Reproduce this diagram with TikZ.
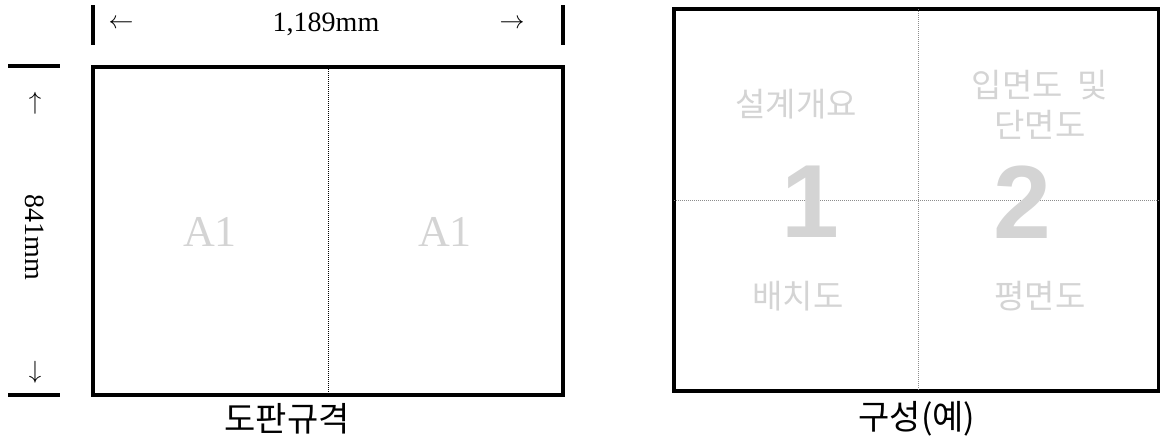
\documentclass[tikz,border=0pt]{standalone}
\usepackage{fontspec}
\setmainfont{Liberation Serif}
\newfontfamily\krfont{Noto Sans CJK KR}
\newfontfamily\numfont{Liberation Sans}
\definecolor{paleGray}{rgb}{0.83,0.83,0.83}
\definecolor{lineGray}{rgb}{0.55,0.55,0.55}

\begin{document}
\begin{tikzpicture}[x=1pt, y=-1pt,
  frame/.style={line width=3.3pt},
  divider/.style={line width=0.9pt, dash pattern=on 1pt off 1pt},
  dimtext/.style={font=\fontsize{28}{32}\selectfont},
  faint/.style={text=paleGray, font=\krfont\fontsize{33}{40}\selectfont, align=center},
  bignum/.style={text=paleGray, font=\numfont\bfseries\fontsize{104}{110}\selectfont},
  caption/.style={font=\krfont\fontsize{34}{38}\selectfont}]
%		\draw[help lines] (0,0) grid (1160,439);
\useasboundingbox (0,0) rectangle (1160,439);

% sheet size
\draw[frame] (93,67) rectangle (563,395);
\draw[divider] (328,67) -- (328,395);
\draw[frame] (93,5) -- (93,45);
\draw[frame] (563,5) -- (563,45);
\draw[frame] (8,66) -- (60,66);
\draw[frame] (8,395) -- (60,395);
\node[dimtext] (wleft) at (121,24) {$\leftarrow$};
\node[dimtext] (wtext) at (326,24) {1,189mm};
\node[dimtext] (wright) at (512,24) {$\rightarrow$};
\node[dimtext] (hup) at (35,103) {$\uparrow$};
\node[dimtext, rotate=-90] (htext) at (35,237) {841mm};
\node[dimtext] (hdown) at (35,372) {$\downarrow$};
\node[text=paleGray, font=\fontsize{44}{48}\selectfont] (a1l) at (210,232) {A1};
\node[text=paleGray, font=\fontsize{44}{48}\selectfont] (a1r) at (445,232) {A1};
\node[caption] (sizecap) at (287,419) {도판규격};

% layout example
\draw[frame] (674,9) rectangle (1159,391);
\draw[divider, lineGray] (918,9) -- (918,391);
\draw[divider, lineGray] (674,200) -- (1159,200);
\node[bignum] (one) at (810,202) {1};
\node[bignum] (two) at (1022,202) {2};
\node[faint] (outline) at (796,104) {설계개요};
\node[faint] (section) at (1040,105) {입면도~ 및\\단면도};
\node[faint] (siteplan) at (798,296) {배치도};
\node[faint] (floorplan) at (1040,296) {평면도};
\node[caption] (layoutcap) at (917,419) {구성(예)};
\end{tikzpicture}
\end{document}
